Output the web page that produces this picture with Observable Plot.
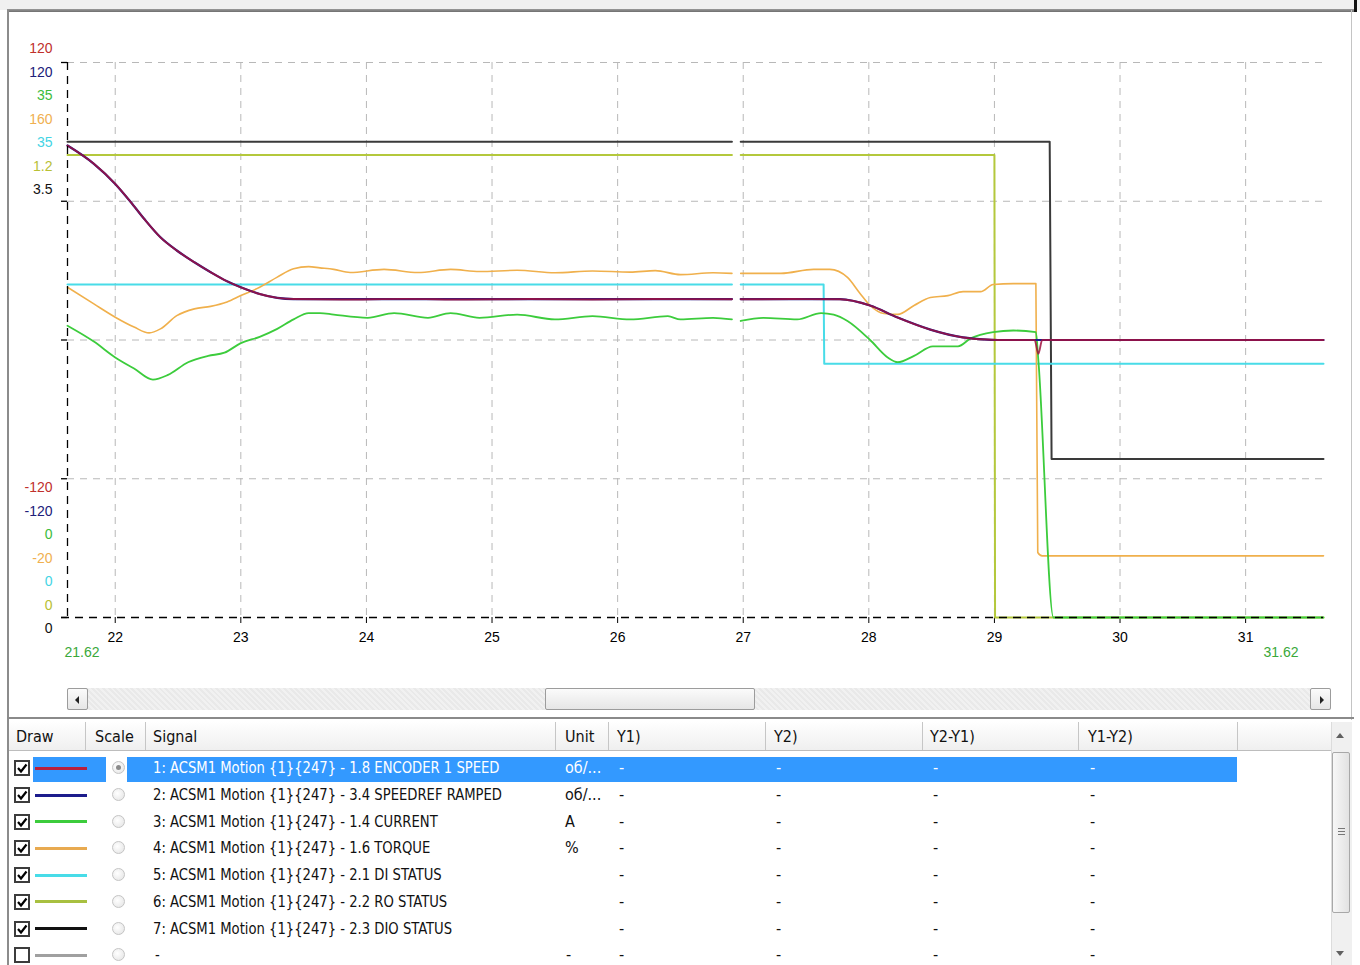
<!DOCTYPE html>
<html><head><meta charset="utf-8">
<script src="https://cdn.jsdelivr.net/npm/d3@7"></script>
<script src="https://cdn.jsdelivr.net/npm/@observablehq/plot@0.6"></script>
<style>
body{margin:0;background:#fff;}
#wrap{position:relative;width:1360px;height:965px;overflow:hidden;background:#fff;}
#chart{position:absolute;left:0;top:0;}
.abs{position:absolute;}
.tbl{font-family:"Liberation Sans Narrow","DejaVu Sans Condensed","Arial Narrow","Liberation Sans",sans-serif;font-size:16px;color:#111;white-space:nowrap;}
.sig{transform:scaleX(0.915);transform-origin:0 50%;}
</style></head><body><div id="wrap"><div id="chart"></div><div id="ui"></div></div>
<script>
// ---------------- data ----------------
const signalNames = [
  "1: ACSM1 Motion {1}{247} - 1.8 ENCODER 1 SPEED",
  "2: ACSM1 Motion {1}{247} - 3.4 SPEEDREF RAMPED",
  "3: ACSM1 Motion {1}{247} - 1.4 CURRENT",
  "4: ACSM1 Motion {1}{247} - 1.6 TORQUE",
  "5: ACSM1 Motion {1}{247} - 2.1 DI STATUS",
  "6: ACSM1 Motion {1}{247} - 2.2 RO STATUS",
  "7: ACSM1 Motion {1}{247} - 2.3 DIO STATUS"
];
const signalUnits = ["об/...", "об/...", "A", "%", "", "", ""];
const signalColors = ["#a01040", "#1c1c8c", "#3ccc3c", "#f0b04c", "#48dce8", "#b4c83c", "#3a3a3a"];
const swatchColors = ["#b8203c", "#1c1c8c", "#3ccc3c", "#e8aa50", "#48dce8", "#a8c040", "#111111"];
const labelColors = ["#c0302c", "#20207a", "#3cbc3c", "#f0b050", "#44d4e4", "#b8c034", "#111111"];
const scaleMax = [120, 120, 35, 160, 35, 1.2, 3.5];
const scaleMin = [-120, -120, 0, -20, 0, 0, 0];
const xTicks = [22, 23, 24, 25, 26, 27, 28, 29, 30, 31];
const timeRange = [21.62, 31.62];
const tableHeaders = ["Draw", "Scale", "Signal", "Unit", "Y1)", "Y2)", "Y2-Y1)", "Y1-Y2)"];

// [time s, value]; null = recording gap
const encoderSpeed = [[21.62,84.1],[21.83,76.2],[22.0,67.5],[22.12,59.9],[22.23,52.4],[22.36,44.4],[22.49,38.7],[22.63,33.6],[22.76,29.3],[22.89,25.4],[23.0,22.8],[23.15,19.9],[23.29,18.2],[23.42,17.7],[23.8,17.5],[24.3,17.8],[24.8,17.5],[25.3,17.7],[25.8,17.5],[26.3,17.7],[26.91,17.6],[26.95,null],[26.98,17.6],[27.4,17.7],[27.77,17.6],[28.01,14.9],[28.23,9.7],[28.49,4.5],[28.75,1.1],[28.94,0.2],[29.05,0],[29.32,0],[29.35,-6],[29.38,0],[31.62,0]];
const speedRefRamped = [[21.62,84.1],[21.83,76.2],[22.0,67.5],[22.12,59.9],[22.23,52.4],[22.36,44.4],[22.49,38.7],[22.63,33.6],[22.76,29.3],[22.89,25.4],[23.0,22.8],[23.15,19.9],[23.29,18.2],[23.42,17.7],[26.91,17.7],[26.95,null],[26.98,17.7],[27.77,17.7],[28.01,14.9],[28.23,9.7],[28.49,4.5],[28.75,1.1],[28.94,0.2],[29.05,0],[31.62,0]];
const motorCurrent = [[21.62,18.4],[21.83,17.4],[22.0,16.4],[22.15,15.7],[22.3,15.0],[22.42,15.3],[22.58,16.1],[22.74,16.5],[22.87,16.7],[23.0,17.3],[23.15,17.7],[23.29,18.2],[23.42,18.8],[23.54,19.2],[23.63,19.2],[23.74,19.1],[24.01,18.9],[24.22,19.2],[24.49,18.9],[24.67,19.2],[24.9,18.9],[25.2,19.1],[25.5,18.8],[25.8,19.0],[26.1,18.8],[26.4,19.0],[26.5,18.8],[26.76,18.9],[26.91,18.8],[26.95,null],[26.98,18.7],[27.16,18.9],[27.43,18.8],[27.62,19.2],[27.72,19.1],[27.83,18.7],[28.01,17.5],[28.15,16.4],[28.23,16.1],[28.36,16.5],[28.51,17.1],[28.71,17.1],[28.81,17.6],[28.99,18.0],[29.15,18.1],[29.33,18.0],[29.35,16.2],[29.47,0],[31.62,0]];
const motorTorque = [[21.62,87.1],[21.83,81.7],[22.0,77.4],[22.15,74.2],[22.27,72.3],[22.36,73.6],[22.49,77.9],[22.63,80.1],[22.76,80.9],[22.89,82.3],[23.0,84.4],[23.15,87.1],[23.29,90.4],[23.42,93.1],[23.54,93.8],[23.63,93.4],[23.74,92.9],[23.87,91.9],[24.14,92.9],[24.41,91.9],[24.67,92.9],[24.9,92.2],[25.2,92.6],[25.5,91.8],[25.8,92.4],[26.1,92.0],[26.3,92.5],[26.5,91.2],[26.76,91.8],[26.91,91.6],[26.95,null],[26.98,91.6],[27.3,91.6],[27.56,92.9],[27.69,92.9],[27.83,90.3],[27.93,85.1],[28.01,81.2],[28.12,78.6],[28.23,78.3],[28.36,81.2],[28.49,83.8],[28.63,84.4],[28.75,85.7],[28.89,85.7],[28.99,88.0],[29.15,88.3],[29.33,88.3],[29.345,1.1],[29.38,0],[31.62,0]];
const diStatus = [[21.62,21],[26.91,21],[26.95,null],[26.98,21],[27.64,21],[27.645,16],[31.62,16]];
const roStatus = [[21.62,1],[26.91,1],[26.95,null],[26.98,1],[29.0,1],[29.005,0],[31.62,0]];
const dioStatus = [[21.62,3],[26.91,3],[26.95,null],[26.98,3],[29.44,3],[29.455,1],[31.62,1]];

// ---------------- chart ----------------
const seriesData = [encoderSpeed, speedRefRamped, motorCurrent, motorTorque, diStatus, roStatus, dioStatus];
const lineWidths = [1.9, 2.2, 1.8, 1.6, 2, 2, 2];
const lineOpacity = [0.85, 1, 1, 1, 1, 1, 1];
const lineCurves = ["monotone-x", "monotone-x", "monotone-x", "monotone-x", "linear", "linear", "linear"];
const toDiv = (i, v) => v == null ? NaN : 4 * (v - scaleMin[i]) / (scaleMax[i] - scaleMin[i]);
const drawOrder = [6, 5, 4, 3, 2, 1, 0];
const gridStyle = {stroke: "#b8b8b8", strokeDasharray: "7,6", strokeWidth: 1};

const marks = [
  Plot.ruleX(xTicks, gridStyle),
  Plot.ruleY([1, 2, 3, 4], gridStyle),
  ...drawOrder.map(i => Plot.line(seriesData[i], {
    x: d => d[0], y: d => toDiv(i, d[1]), curve: lineCurves[i],
    stroke: signalColors[i], strokeWidth: lineWidths[i], strokeOpacity: lineOpacity[i]
  })),
  Plot.ruleY([0], {stroke: "#000", strokeDasharray: "8,6", strokeWidth: 1.3, insetLeft: -6}),
  Plot.ruleX([timeRange[0]], {stroke: "#000", strokeDasharray: "8,6", strokeWidth: 1.3}),
  Plot.ruleY([0, 1, 2, 3, 4], {y: d => d, x1: timeRange[0], x2: timeRange[0], insetLeft: -6, stroke: "#000", strokeWidth: 1.3}),
  ...scaleMax.map((m, i) => Plot.text([String(m)], {
    text: d => d, frameAnchor: "top-left", lineAnchor: "middle", dx: -15, dy: -13.5 + i * 23.5,
    textAnchor: "end", fill: labelColors[i], fontSize: 14
  })),
  ...scaleMin.map((m, i) => Plot.text([String(m)], {
    text: d => d, frameAnchor: "bottom-left", lineAnchor: "middle", dx: -15, dy: 11.5 - (6 - i) * 23.5,
    textAnchor: "end", fill: labelColors[i], fontSize: 14
  })),
  Plot.text([timeRange[0]], {x: d => d, text: d => d.toFixed(2), frameAnchor: "bottom", lineAnchor: "middle", dy: 35, dx: -3, textAnchor: "start", fill: "#3aa83a", fontSize: 14}),
  Plot.text([timeRange[1]], {x: d => d, text: d => d.toFixed(2), frameAnchor: "bottom", lineAnchor: "middle", dy: 35, dx: -25, textAnchor: "end", fill: "#3aa83a", fontSize: 14})
];

const chart = Plot.plot({
  width: 1360, height: 685,
  marginLeft: 67, marginRight: 37, marginTop: 62, marginBottom: 68,
  style: {fontFamily: "'Liberation Sans', Arial, sans-serif", fontSize: "14px", color: "#000", background: "transparent", overflow: "visible"},
  x: {domain: timeRange, ticks: xTicks, tickFormat: d => String(d), tickSize: 6, tickPadding: 9, label: null},
  y: {domain: [0, 4], axis: null},
  marks
});
document.getElementById("chart").appendChild(chart);

// ---------------- window chrome & table ----------------
const ui = document.getElementById("ui");
function box(css, html) {
  const d = document.createElement("div");
  d.className = "abs";
  d.style.cssText = css;
  if (html != null) d.innerHTML = html;
  ui.appendChild(d);
  return d;
}
box("left:0;top:0;width:1360px;height:10px;background:#f0f0f0;");
box("left:7px;top:9px;width:1347px;height:3px;background:linear-gradient(#9a9a9a,#6e6e6e);");
box("left:7px;top:10px;width:2px;height:955px;background:#8c8c8c;");
box("left:1351px;top:10px;width:1px;height:710px;background:#c4c4c4;");
box("left:1354px;top:0;width:3px;height:12px;background:#111;");

box("left:67px;top:688px;width:1264px;height:22px;background:repeating-linear-gradient(45deg,#e9e9e9 0 2px,#f1f1f1 2px 4px);");
const btn = "background:linear-gradient(#fbfbfb,#e6e6e6);border:1px solid #9c9c9c;box-sizing:border-box;border-radius:2px;";
box("left:67px;top:688px;width:21px;height:22px;" + btn, '<div style="position:absolute;left:7px;top:7px;width:0;height:0;border-top:4px solid transparent;border-bottom:4px solid transparent;border-right:4px solid #222;"></div>');
box("left:545px;top:688px;width:210px;height:22px;" + btn);
box("left:1310px;top:688px;width:21px;height:22px;" + btn, '<div style="position:absolute;left:9px;top:7px;width:0;height:0;border-top:4px solid transparent;border-bottom:4px solid transparent;border-left:4px solid #222;"></div>');

box("left:7px;top:717px;width:1347px;height:2px;background:#8a8a8a;");
box("left:9px;top:721px;width:1322px;height:29px;background:linear-gradient(#ffffff,#efefef);border-bottom:1px solid #bdbdbd;");
const colSeps = [85, 145, 555, 608, 765, 922, 1078, 1237];
colSeps.forEach(x => box(`left:${x}px;top:722px;width:1px;height:28px;background:#c6c6c6;`));
const headerX = [16, 95, 153, 565, 617, 774, 930, 1088];
tableHeaders.forEach((h, i) => box(`left:${headerX[i]}px;top:726px;line-height:22px;`, h).classList.add("tbl"));

const rowTop = 755, rowH = 26.7;
const allRows = signalNames.map((n, i) => ({name: n, unit: signalUnits[i], color: swatchColors[i], on: true}));
allRows.push({name: "-", unit: "-", color: "#a0a0a0", on: false});
const valueX = [619, 776, 933, 1090];
allRows.forEach((r, i) => {
  const top = rowTop + i * rowH;
  const cy = top + rowH / 2;
  const sel = i === 0;
  if (sel) {
    box(`left:33px;top:${top + 2}px;width:73px;height:${rowH - 2}px;background:#3399ff;`);
    box(`left:127px;top:${top + 2}px;width:1110px;height:${rowH - 2}px;background:#3399ff;`);
  }
  box(`left:14px;top:${cy - 8}px;width:16px;height:16px;box-sizing:border-box;border:2px solid #3c3c3c;background:#fff;`,
    r.on ? '<svg width="12" height="12" style="position:absolute;left:0;top:0"><path d="M2 6 L5 9.5 L10.5 2.5" fill="none" stroke="#000" stroke-width="2.2"/></svg>' : "");
  box(`left:35px;top:${cy - 1.5}px;width:52px;height:3px;background:${r.color};`);
  box(`left:112px;top:${cy - 7}px;width:13px;height:13px;box-sizing:border-box;border-radius:50%;border:1px solid #c4c4c4;background:radial-gradient(circle at 40% 40%,#ffffff,#e2e2e2);`,
    sel ? '<div style="position:absolute;left:3px;top:3px;width:5px;height:5px;border-radius:50%;background:#8a8a8a;"></div>' : "");
  const fg = sel ? "#fff" : "#111";
  const nm = box(`left:${r.on ? 153 : 155}px;top:${cy - 11}px;line-height:22px;color:${fg};`, r.name);
  nm.classList.add("tbl"); nm.classList.add("sig");
  if (r.unit) box(`left:${r.on ? 565 : 566}px;top:${cy - 11}px;line-height:22px;color:${fg};`, r.unit).classList.add("tbl");
  valueX.forEach(x => box(`left:${x}px;top:${cy - 11}px;line-height:22px;color:${fg};`, "-").classList.add("tbl"));
});

box("left:1331px;top:722px;width:20px;height:243px;background:#f0f0f0;border-left:1px solid #dcdcdc;");
box("left:1336px;top:733px;width:0;height:0;border-left:4px solid transparent;border-right:4px solid transparent;border-bottom:5px solid #606060;");
box("left:1332px;top:752px;width:18px;height:161px;box-sizing:border-box;border:1px solid #a8a8a8;border-radius:2px;background:linear-gradient(90deg,#f7f7f7,#e2e2e2);",
  '<div style="position:absolute;left:5px;top:75px;width:7px;height:1px;background:#777;box-shadow:0 3px 0 #777,0 6px 0 #777;"></div>');
box("left:1336px;top:951px;width:0;height:0;border-left:4px solid transparent;border-right:4px solid transparent;border-top:5px solid #606060;");
</script>
</body></html>
